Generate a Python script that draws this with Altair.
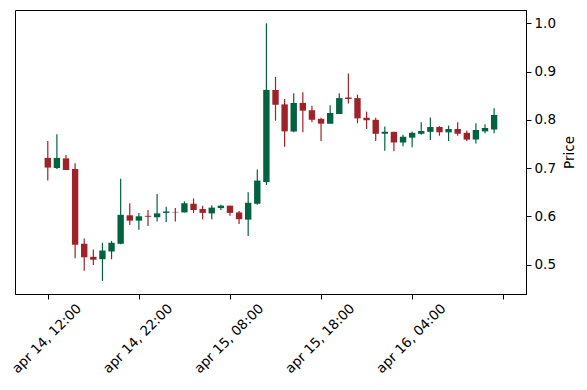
import altair as alt
import pandas as pd

tick_labels = ["apr 14, 12:00", "apr 14, 22:00", "apr 15, 08:00", "apr 15, 18:00", "apr 16, 04:00", ""]
tick_positions = [0, 10, 20, 30, 40, 50]

opens = [0.721, 0.700, 0.720, 0.698, 0.543, 0.516, 0.511, 0.527, 0.543, 0.602,
         0.591, 0.601, 0.598, 0.607, 0.609, 0.608, 0.626, 0.615, 0.606, 0.617,
         0.622, 0.608, 0.593, 0.626, 0.671, 0.862, 0.832, 0.776, 0.835, 0.820,
         0.802, 0.792, 0.812, 0.846, 0.845, 0.804, 0.800, 0.771, 0.775, 0.753,
         0.763, 0.771, 0.775, 0.785, 0.774, 0.781, 0.773, 0.759, 0.776, 0.780]
closes = [0.701, 0.721, 0.696, 0.541, 0.515, 0.510, 0.529, 0.545, 0.603, 0.591,
          0.600, 0.599, 0.606, 0.610, 0.608, 0.627, 0.613, 0.607, 0.618, 0.622,
          0.607, 0.594, 0.628, 0.674, 0.862, 0.831, 0.776, 0.835, 0.819, 0.800,
          0.792, 0.814, 0.845, 0.843, 0.803, 0.799, 0.771, 0.775, 0.753, 0.765,
          0.773, 0.777, 0.785, 0.774, 0.781, 0.771, 0.759, 0.779, 0.783, 0.810]
highs = [0.756, 0.770, 0.727, 0.710, 0.554, 0.531, 0.545, 0.549, 0.678, 0.627,
         0.607, 0.613, 0.646, 0.620, 0.617, 0.631, 0.637, 0.622, 0.623, 0.624,
         0.622, 0.611, 0.650, 0.697, 1.000, 0.889, 0.843, 0.855, 0.857, 0.829,
         0.804, 0.830, 0.855, 0.896, 0.852, 0.817, 0.804, 0.786, 0.775, 0.769,
         0.776, 0.795, 0.805, 0.787, 0.788, 0.795, 0.778, 0.793, 0.791, 0.824]
lows = [0.674, 0.698, 0.696, 0.513, 0.487, 0.499, 0.466, 0.511, 0.542, 0.582,
        0.572, 0.580, 0.589, 0.588, 0.589, 0.608, 0.607, 0.594, 0.594, 0.613,
        0.601, 0.584, 0.559, 0.624, 0.665, 0.798, 0.744, 0.774, 0.774, 0.795,
        0.756, 0.792, 0.812, 0.834, 0.793, 0.781, 0.756, 0.736, 0.735, 0.745,
        0.743, 0.769, 0.758, 0.767, 0.756, 0.767, 0.756, 0.751, 0.772, 0.772]

df = pd.DataFrame({
    "idx": list(range(len(opens))),
    "open": opens, "close": closes, "high": highs, "low": lows,
})
df["dir"] = ["up" if c >= o else "down" for o, c in zip(opens, closes)]

label_expr = " : ".join(
    f"datum.value == {p} ? '{l}'" for p, l in zip(tick_positions, tick_labels)
) + " : ''"

FONT = "DejaVu Sans"
FS = 13.5

x_scale = alt.Scale(domain=[-3.6, 52.5], nice=False, zero=False)
y_scale = alt.Scale(domain=[0.4389, 1.0276], nice=False, zero=False)
color = alt.Color("dir:N", scale=alt.Scale(domain=["up", "down"], range=["#006340", "#A02128"]), legend=None)

x_axis = alt.Axis(values=tick_positions, labelExpr=label_expr, title=None, grid=False,
                  labelAngle=315, labelAlign="right", labelBaseline="middle",
                  labelOffset=31, labelPadding=7, tickSize=5, labelFontSize=FS,
                  labelFont=FONT, labelColor="black", tickColor="black", domainColor="black")
y_axis = alt.Axis(orient="right", values=[0.5, 0.6, 0.7, 0.8, 0.9, 1.0], format=".1f",
                  title="Price", titleAngle=270, titleBaseline="top", titleFontWeight="normal",
                  titleFontSize=FS, titleFont=FONT, titleColor="black", titlePadding=7, grid=False,
                  tickSize=5, labelPadding=3, labelFontSize=FS, labelFont=FONT,
                  labelColor="black", tickColor="black", domainColor="black")

base = alt.Chart(df)

wicks = base.mark_rule(strokeWidth=1.2).encode(
    x=alt.X("idx:Q", scale=x_scale, axis=x_axis),
    y=alt.Y("low:Q", scale=y_scale, axis=y_axis),
    y2="high:Q",
    color=color,
)

bodies = base.transform_calculate(
    x0="datum.idx - 0.35", x1="datum.idx + 0.35"
).mark_bar().encode(
    x=alt.X("x0:Q", scale=x_scale),
    x2="x1:Q",
    y=alt.Y("open:Q", scale=y_scale),
    y2="close:Q",
    color=color,
)

chart = alt.layer(wicks, bodies).properties(
    width=511, height=284,
    autosize=alt.AutoSizeParams(type="none"),
    padding={"left": 7, "top": 2, "right": 53, "bottom": 92},
).configure_view(stroke="black", strokeWidth=1)

chart.save("out.html", embed_options={"renderer": "svg", "actions": False})
